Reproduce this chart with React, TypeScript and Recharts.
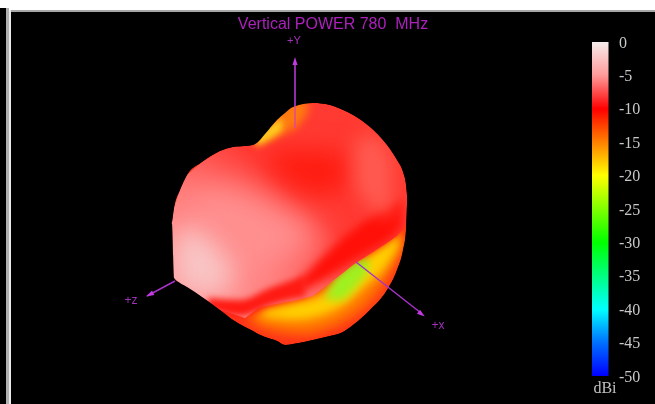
import { Area, ComposedChart, Line, ReferenceDot, Scatter, XAxis, YAxis } from 'recharts'

const W = 655
const H = 404

// colour bar
const barTicks = [0, -5, -10, -15, -20, -25, -30, -35, -40, -45, -50]
const barColors = ['#f6ecec', '#ff9a9a', '#ff0000', '#ff8000', '#ffff00', '#80ff00', '#00ff00', '#00ff80', '#00ffff', '#0070ff', '#0000ff']
const barEdges = [592, 608.5]

// outline of the pattern
const shellX = [172, 174, 180, 187, 202, 220, 233, 245, 253, 258, 265, 277, 285, 293, 313, 330, 343, 353, 370, 387, 397, 403, 406, 407]
const shellTop = [222, 208, 190, 175, 162, 151, 147, 146, 145, 142, 134, 120, 113, 107, 103, 105, 110, 115, 127, 145, 160, 172, 185, 195]
const shellBottom = [224, 278, 283, 287, 297, 310, 320, 327, 331, 334, 337, 341, 345, 344, 340, 336, 332, 325, 310, 290, 270, 250, 230, 205]
const bodyBottom = [224, 278, 283, 287, 297, 310, 314, 318, 312, 308, 306, 304, 302, 301, 296, 283, 273, 265, 254, 243, 236, 229, 224, 205]

// soft colour patches: [colour, blur, xs, tops, bottoms]
const patchesBehind: [string, number, number[], number[], number[]][] = [
  ['#ff7a00', 6, [250, 280, 305, 330, 350, 370, 385, 402], [312, 304, 298, 285, 270, 255, 240, 225], [322, 332, 334, 328, 318, 302, 282, 248]],
  ['#ffd000', 5, [262, 295, 320, 345, 365, 385, 399], [310, 303, 296, 280, 258, 243, 234], [317, 320, 316, 304, 286, 268, 246]],
  ['#a0f020', 4, [326, 340, 355, 368], [297, 268, 258, 258], [300, 300, 288, 272]],
]
const patchesFront: [string, number, number[], number[], number[]][] = [
  ['#ff8f8f', 16, [180, 200, 230, 260, 290, 320], [210, 185, 185, 195, 210, 230], [280, 290, 290, 278, 262, 245]],
  ['#f9c4c4', 12, [174, 190, 210, 232], [235, 228, 240, 265], [282, 292, 296, 286]],
  ['#ff1c10', 12, [270, 300, 330, 350], [150, 150, 150, 165], [165, 190, 195, 175]],
  ['#ff1008', 5, [300, 330, 360, 390, 402], [280, 250, 225, 205, 200], [292, 276, 256, 238, 226]],
  ['#ff5a50', 9, [355, 375, 392], [140, 135, 160], [185, 210, 215]],
  ['#ff1a12', 3, [208, 240, 270, 305], [298, 300, 288, 276], [308, 316, 305, 296]],
  ['#ff7a10', 4, [255, 270, 285, 298, 308], [140, 122, 105, 100, 100], [146, 140, 133, 126, 112]],
  ['#ffd020', 3, [256, 268, 282], [138, 128, 118], [146, 140, 130]],
]

// axes of the 3D view
const axisY = [{ x: 295, y: 60 }, { x: 295, y: 106 }]
const axisYInner = [{ x: 295, y: 106 }, { x: 295, y: 128 }]
const axisZ = [{ x: 175, y: 281 }, { x: 147, y: 296 }]
const axisX = [{ x: 356, y: 262 }, { x: 421, y: 313 }]
const axisTips = [
  { x: 295, y: 58, angle: 0 },
  { x: 147, y: 296, angle: -118 },
  { x: 424, y: 316, angle: 128 },
]

const span = (xs: number[], top: number[], bottom: number[]) =>
  xs.map((x, i) => ({ x, y: [top[i], bottom[i]] }))

const maskX = [120, 171, ...shellX, 408, 450]
const maskTop = [223, 223, ...shellTop, 200, 200]
const maskBottom = [223, 223, ...shellBottom, 200, 200]

const Arrow = (props: any) => (
  <polygon
    points="0,-1 2.5,7 -2.5,7"
    fill="#c23be0"
    transform={`translate(${props.cx},${props.cy}) rotate(${props.payload.angle})`}
  />
)

const solid = (data: any[], fill: string, yAxisId = 'px', type: any = 'monotoneX') => (
  <Area
    yAxisId={yAxisId}
    data={data}
    dataKey="y"
    type={type}
    fill={fill}
    fillOpacity={1}
    stroke="none"
    dot={false}
    activeDot={false}
    isAnimationActive={false}
  />
)

const blurred = (list: typeof patchesBehind, prefix: string) =>
  list.map(([color, blur, xs, top, bottom], i) => (
    <Area
      key={prefix + i}
      yAxisId="px"
      data={span(xs, top, bottom)}
      dataKey="y"
      type="monotoneX"
      fill={color}
      fillOpacity={1}
      stroke="none"
      dot={false}
      activeDot={false}
      style={{ filter: `blur(${blur}px)` }}
      isAnimationActive={false}
    />
  ))

const axisLine = (data: any[], stroke: string) => (
  <Line yAxisId="px" data={data} dataKey="y" stroke={stroke} strokeWidth={1.5} dot={false} activeDot={false} isAnimationActive={false} />
)

const labelDot = (x: number, y: number, value: string, fill: string, fontSize: number, fontFamily = 'Liberation Sans') => (
  <ReferenceDot
    yAxisId="px"
    x={x}
    y={y}
    r={0}
    stroke="none"
    ifOverflow="visible"
    label={{ value, position: 'center', fill, fontSize, fontFamily }}
  />
)

export default function App() {
  return (
    <div style={{ position: 'absolute', left: 0, top: 0, width: W, height: H, background: '#000', overflow: 'hidden' }}>
      <div style={{ filter: 'blur(0.5px)' }}>
        <ComposedChart width={W} height={H} margin={{ top: 0, right: 0, bottom: 0, left: 0 }}>
          <defs>
            <linearGradient id="barFill" x1="0" y1="0" x2="0" y2="1">
              {barColors.map((c, i) => (
                <stop key={c} offset={i / (barColors.length - 1)} stopColor={c} />
              ))}
            </linearGradient>
            <linearGradient id="bodyFill" x1="0" y1="1" x2="1" y2="0">
              <stop offset="0" stopColor="#ffb0b0" />
              <stop offset="0.3" stopColor="#ff7a78" />
              <stop offset="0.55" stopColor="#ff3a34" />
              <stop offset="1" stopColor="#ff3a30" />
            </linearGradient>
          </defs>
          <XAxis type="number" dataKey="x" domain={[0, 619]} hide allowDataOverflow />
          <YAxis yAxisId="px" hide reversed domain={[0, H]} allowDataOverflow />
          <YAxis
            yAxisId="bar"
            orientation="right"
            width={36}
            domain={[-54.19, 6.29]}
            ticks={barTicks}
            interval={0}
            axisLine={false}
            tickLine={false}
            tickSize={0}
            tickMargin={0}
            allowDataOverflow
            tick={{ fill: '#c8c8c8', fontSize: 16, fontFamily: 'Liberation Serif', textAnchor: 'start' }}
          />

          {solid(span(shellX, shellTop, shellBottom), '#ff3318')}
          {blurred(patchesBehind, 'b')}
          {solid(span(shellX, shellTop, bodyBottom), 'url(#bodyFill)', 'px', 'linear')}
          {blurred(patchesFront, 'f')}

          {solid(span(maskX, maskTop.map(() => 12), maskTop), '#000')}
          {solid(span(maskX, maskBottom, maskBottom.map(() => H)), '#000')}

          {solid(barEdges.map((x) => ({ x, y: [-50, 0] })), 'url(#barFill)', 'bar', 'linear')}

          {axisLine(axisY, '#c23be0')}
          {axisLine(axisYInner, '#e04a90')}
          {axisLine(axisZ, '#a832c8')}
          {axisLine(axisX, '#a832c8')}
          <Scatter yAxisId="px" data={axisTips} dataKey="y" shape={Arrow} isAnimationActive={false} />

          {labelDot(333, 23, 'Vertical POWER 780\u00a0\u00a0MHz', '#ac20bc', 16)}
          {labelDot(294, 40, '+Y', '#a030b8', 11)}
          {labelDot(131, 300, '+z', '#a030b8', 12)}
          {labelDot(438, 325, '+x', '#a030b8', 12)}
          {labelDot(605, 387, 'dBi', '#c0c0c0', 16, 'Liberation Serif')}
        </ComposedChart>
      </div>
      <div style={{ position: 'absolute', left: 0, top: 0, width: W, height: 10, background: '#fff' }} />
      <div style={{ position: 'absolute', left: 9, top: 10, width: W - 9, height: 2, background: '#a8a8a8' }} />
      <div style={{ position: 'absolute', left: 0, top: 8, width: 6, height: H - 8, background: '#000' }} />
      <div style={{ position: 'absolute', left: 6, top: 8, width: 3, height: H - 8, background: '#b0b0b0' }} />
      <div style={{ position: 'absolute', left: 9, top: 10, width: 2, height: H - 10, background: '#e8e8e8' }} />
    </div>
  )
}
